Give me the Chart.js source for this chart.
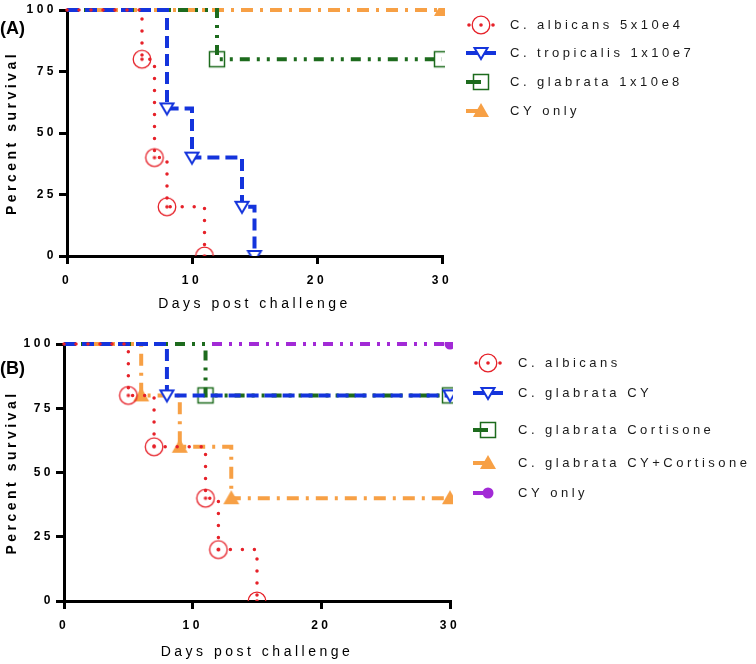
<!DOCTYPE html>
<html lang="en">
<head>
<meta charset="UTF-8">
<title>Survival curves</title>
<script src="https://cdn.jsdelivr.net/npm/chart.js"></script>
<style>
  body { margin: 0; background: #fff; }
  canvas { display: block; }
</style>
</head>
<body>
<canvas id="chartA" width="756" height="320"></canvas>
<canvas id="chartB" width="756" height="344"></canvas>
<script>
// axis ticks
const xTicks = [0, 10, 20, 30];
const yTicks = [0, 25, 50, 75, 100];

// panel A
const labelsA = ['C. albicans 5x10e4', 'C. tropicalis 1x10e7', 'C. glabrata 1x10e8', 'CY only'];
const albicansA_days = [0, 6, 7, 8, 11];
const albicansA_surv = [100, 80, 40, 20, 0];
const tropicalisA_days = [0, 8, 10, 14, 15];
const tropicalisA_surv = [100, 60, 40, 20, 0];
const glabrataA_days = [0, 12, 30];
const glabrataA_surv = [100, 80, 80];
const cyOnlyA_days = [0, 30];
const cyOnlyA_surv = [100, 100];

// panel B
const labelsB = ['C. albicans', 'C. glabrata CY', 'C. glabrata Cortisone', 'C. glabrata CY+Cortisone', 'CY only'];
const albicansB_days = [0, 5, 7, 11, 12, 15];
const albicansB_surv = [100, 80, 60, 40, 20, 0];
const glabrataCY_days = [0, 8, 30];
const glabrataCY_surv = [100, 80, 80];
const glabrataCort_days = [0, 11, 30];
const glabrataCort_surv = [100, 80, 80];
const glabrataCYCort_days = [0, 6, 9, 13, 30];
const glabrataCYCort_surv = [100, 80, 60, 40, 40];
const cyOnlyB_days = [0, 30];
const cyOnlyB_surv = [100, 100];

const RED = '#e62129', BLUE = '#1434dc', GREEN = '#1d6b1d', ORANGE = '#f7a045', PURPLE = '#a22ad6';
const FONT = '"Liberation Sans", Arial, sans-serif';
Chart.defaults.font.family = FONT;

function marker(kind, color) {
  const c = document.createElement('canvas');
  c.width = 22; c.height = 22;
  const g = c.getContext('2d');
  const m = 11;
  g.strokeStyle = color; g.fillStyle = color;
  if (kind === 'ring') {
    g.lineWidth = 1.3;
    g.beginPath(); g.arc(m, m, 8.8, 0, 2 * Math.PI); g.stroke();
    g.beginPath(); g.arc(m, m, 1.8, 0, 2 * Math.PI); g.fill();
  } else if (kind === 'downTri') {
    g.lineWidth = 2;
    g.beginPath(); g.moveTo(m - 6.5, m - 5); g.lineTo(m + 6.5, m - 5); g.lineTo(m, m + 6); g.closePath();
    g.fillStyle = '#fff'; g.fill(); g.stroke();
  } else if (kind === 'square') {
    g.lineWidth = 1.5;
    g.strokeRect(m - 7.5, m - 7.5, 15, 15);
  } else if (kind === 'tri') {
    g.beginPath(); g.moveTo(m, m - 8); g.lineTo(m + 8, m + 6); g.lineTo(m - 8, m + 6); g.closePath(); g.fill();
  } else if (kind === 'dot') {
    g.beginPath(); g.arc(m, m, 5.5, 0, 2 * Math.PI); g.fill();
  }
  return c;
}

function series(label, days, surv, color, dash, width, cap, kind, legendLine) {
  const img = marker(kind, color);
  return {
    label: label,
    data: days.map((d, i) => ({ x: d, y: surv[i] })),
    borderColor: color,
    backgroundColor: color,
    borderWidth: width,
    borderDash: dash,
    borderCapStyle: cap,
    stepped: 'before',
    fill: false,
    clip: { left: 5, top: 2, right: 3, bottom: 0 },
    pointStyle: ctx => ctx.dataIndex === 0 ? 'circle' : img,
    pointRadius: ctx => ctx.dataIndex === 0 ? 0 : 6,
    marker: img,
    legendLine: legendLine
  };
}

const sideLegend = {
  id: 'sideLegend',
  beforeDraw(chart) { chart.ctx.letterSpacing = '3.5px'; },
  afterDraw(chart, args, opts) {
    const ctx = chart.ctx;
    ctx.save();
    chart.data.datasets.forEach((ds, i) => {
      const y = opts.rows[i];
      const x = opts.iconX;
      ctx.strokeStyle = ds.borderColor; ctx.fillStyle = ds.borderColor;
      ctx.setLineDash([]);
      if (ds.legendLine === 'dots') {
        [x - 12, x + 12].forEach(px => { ctx.beginPath(); ctx.arc(px, y, 1.8, 0, 2 * Math.PI); ctx.fill(); });
      } else {
        ctx.lineWidth = 4;
        ctx.beginPath(); ctx.moveTo(x - 15, y); ctx.lineTo(ds.legendLine === 'full' ? x + 15 : x, y); ctx.stroke();
      }
      ctx.drawImage(ds.marker, x - ds.marker.width / 2, y - ds.marker.height / 2);
      ctx.fillStyle = '#1a1a1a';
      ctx.font = '13px ' + FONT;
      ctx.letterSpacing = '3.5px';
      ctx.textBaseline = 'middle'; ctx.textAlign = 'left';
      ctx.fillText(ds.label, opts.textX, y);
    });
    ctx.letterSpacing = '0px';
    ctx.font = 'bold 18px ' + FONT;
    ctx.fillStyle = '#000';
    ctx.textBaseline = 'middle';
    ctx.fillText(opts.tag, 0, opts.tagY);
    ctx.restore();
  }
};

function makeChart(id, datasets, pad, yWidth, xHeight, titlePad, legendOpts) {
  const axisGrid = { display: true, drawOnChartArea: false, drawTicks: true, tickLength: 8, lineWidth: 3, color: '#000' };
  const axisBorder = { display: true, width: 3, color: '#000' };
  const tickFont = { family: FONT, size: 12, weight: 'bold' };
  return new Chart(document.getElementById(id), {
    type: 'line',
    data: { datasets: datasets },
    plugins: [sideLegend],
    options: {
      responsive: false,
      animation: false,
      events: [],
      layout: { padding: pad },
      plugins: { legend: { display: false }, tooltip: { enabled: false }, sideLegend: legendOpts },
      scales: {
        x: {
          type: 'linear', min: 0, max: 30,
          afterBuildTicks: s => { s.ticks = xTicks.map(v => ({ value: v })); },
          afterFit: s => { s.height = xHeight; },
          ticks: { color: '#000', font: tickFont, padding: 9, maxRotation: 0, autoSkip: false },
          grid: axisGrid, border: axisBorder,
          title: { display: true, text: 'Days post challenge', color: '#000', font: { family: FONT, size: 14 }, padding: { top: 0, bottom: titlePad } }
        },
        y: {
          type: 'linear', min: 0, max: 100,
          afterBuildTicks: s => { s.ticks = yTicks.map(v => ({ value: v })); },
          afterFit: s => { s.width = yWidth; },
          ticks: { color: '#000', font: tickFont, padding: 2 },
          grid: axisGrid, border: axisBorder,
          title: { display: true, text: 'Percent survival', color: '#000', font: { family: FONT, size: 14, weight: 'bold' }, padding: { top: 4, bottom: 0 } }
        }
      }
    }
  });
}

makeChart('chartA', [
  series(labelsA[0], albicansA_days, albicansA_surv, RED, [0, 12], 3.5, 'round', 'ring', 'dots'),
  series(labelsA[1], tropicalisA_days, tropicalisA_surv, BLUE, [12, 6], 4, 'butt', 'downTri', 'full'),
  series(labelsA[2], glabrataA_days, glabrataA_surv, GREEN, [10, 7, 3, 7, 3, 7], 4, 'butt', 'square', 'left'),
  series(labelsA[3], cyOnlyA_days, cyOnlyA_surv, ORANGE, [12, 7, 3, 7], 4, 'butt', 'tri', 'left')
], { left: 0, top: 6, right: 314, bottom: 0 }, 67, 64, 7,
  { iconX: 481, textX: 510, rows: [25, 53, 82, 111], tag: '(A)', tagY: 29 });

makeChart('chartB', [
  series(labelsB[0], albicansB_days, albicansB_surv, RED, [0, 12], 3.5, 'round', 'ring', 'dots'),
  series(labelsB[1], glabrataCY_days, glabrataCY_surv, BLUE, [12, 6], 4, 'butt', 'downTri', 'full'),
  series(labelsB[2], glabrataCort_days, glabrataCort_surv, GREEN, [10, 7, 3, 7, 3, 7], 4, 'butt', 'square', 'left'),
  series(labelsB[3], glabrataCYCort_days, glabrataCYCort_surv, ORANGE, [12, 7, 3, 7], 4, 'butt', 'tri', 'left'),
  series(labelsB[4], cyOnlyB_days, cyOnlyB_surv, PURPLE, [10, 7, 3, 7, 3, 7], 4, 'butt', 'dot', 'left')
], { left: 0, top: 24, right: 306, bottom: 0 }, 64, 63, 3,
  { iconX: 488, textX: 518, rows: [43, 73, 110, 143, 173], tag: '(B)', tagY: 49 });
</script>
</body>
</html>
